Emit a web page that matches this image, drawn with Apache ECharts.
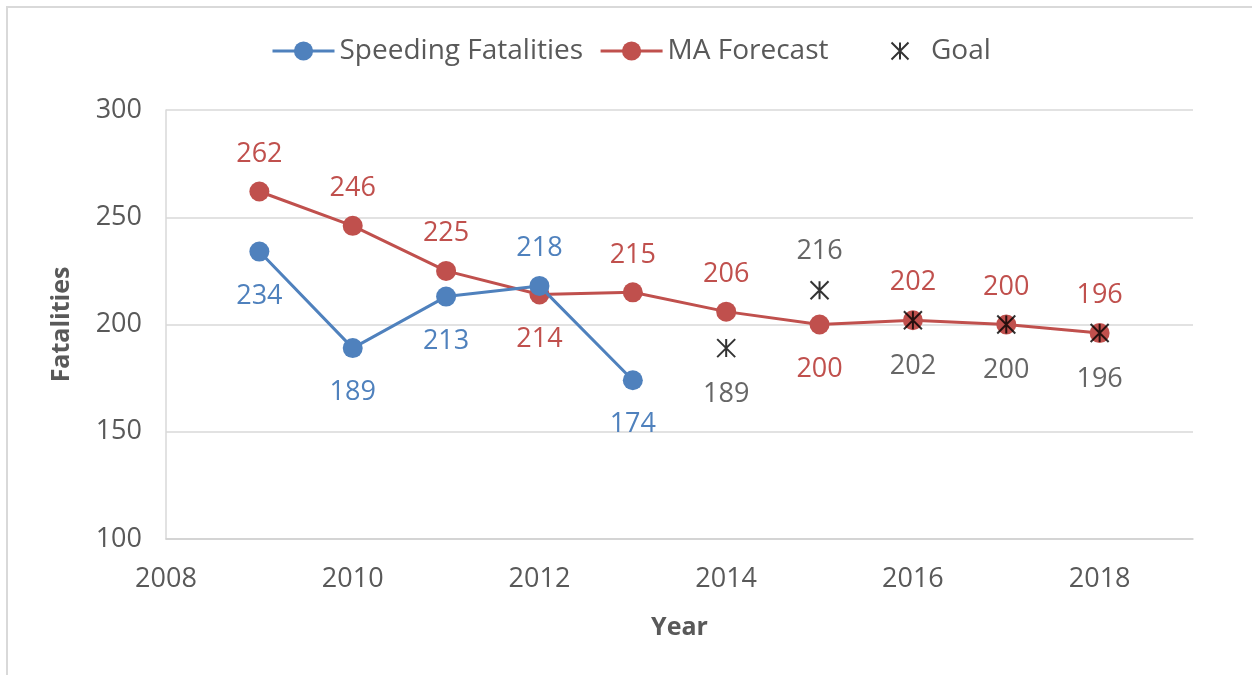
<!DOCTYPE html>
<html>
<head>
<meta charset="utf-8">
<script src="https://cdn.jsdelivr.net/npm/echarts@6/dist/echarts.min.js"></script>
<style>
  html, body { margin: 0; padding: 0; background: #fff; }
  #main { width: 1252px; height: 675px; }
</style>
</head>
<body>
<div id="main"></div>
<script>
// 数据
var speedYears = [2009, 2010, 2011, 2012, 2013];
var speedValues = [234, 189, 213, 218, 174];
var maYears = [2009, 2010, 2011, 2012, 2013, 2014, 2015, 2016, 2017, 2018];
var maValues = [262, 246, 225, 214, 215, 206, 200, 202, 200, 196];
var goalYears = [2014, 2015, 2016, 2017, 2018];
var goalValues = [189, 216, 202, 200, 196];

// 标签位置
var speedLabelPos = ['bottom', 'bottom', 'bottom', 'top', 'bottom'];
var maLabelPos = ['top', 'top', 'top', 'bottom', 'top', 'top', 'bottom', 'top', 'top', 'top'];
var goalLabelPos = ['bottom', 'top', 'bottom', 'bottom', 'bottom'];

var FONT = '"Open Sans", sans-serif';
var BLUE = '#4f81bd', RED = '#c0504d';

function pairs(xs, ys, pos) {
  return xs.map(function (x, i) {
    return {
      value: [x, ys[i]],
      label: { position: pos[i], distance: pos[i] === 'top' ? 14 : 21 }
    };
  });
}

var chart = echarts.init(document.getElementById('main'));
var option = {
  animation: false,
  graphic: [{
    type: 'rect',
    shape: { x: 7, y: 7, width: 1300, height: 720 },
    style: { fill: 'none', stroke: '#d9d9d9', lineWidth: 2 },
    silent: true
  }],
  legend: [
    {
      top: 32,
      left: 266,
      itemWidth: 62,
      itemHeight: 24,
      itemGap: 16,
      lineStyle: { width: 3 },
      textStyle: { fontFamily: FONT, fontSize: 28, color: '#595959' },
      data: ['Speeding Fatalities', 'MA Forecast']
    },
    {
      top: 32,
      left: 884,
      itemWidth: 44,
      itemHeight: 17,
      itemGap: 10,
      textStyle: { fontFamily: FONT, fontSize: 28, color: '#595959', padding: [0, 0, 0, 4] },
      data: ['Goal']
    }
  ],
  grid: { left: 166, right: 59, top: 110, bottom: 136 },
  xAxis: {
    type: 'value',
    min: 2008,
    max: 2019,
    interval: 2,
    name: 'Year',
    nameLocation: 'middle',
    nameGap: 76,
    nameTextStyle: { fontFamily: FONT, fontSize: 25, fontWeight: 'bold', color: '#595959' },
    axisLine: { lineStyle: { color: '#d0d0d0', width: 1.5 } },
    axisTick: { show: false },
    splitLine: { show: false },
    axisLabel: {
      margin: 27,
      showMaxLabel: false,
      fontFamily: FONT, fontSize: 27, color: '#595959',
      formatter: function (v) { return String(v); }
    }
  },
  yAxis: {
    type: 'value',
    min: 100,
    max: 300,
    interval: 50,
    name: 'Fatalities',
    nameLocation: 'middle',
    nameGap: 92,
    nameTextStyle: { fontFamily: FONT, fontSize: 25, fontWeight: 'bold', color: '#595959' },
    axisLine: { show: true, lineStyle: { color: '#d9d9d9', width: 1.5 } },
    axisTick: { show: false },
    splitLine: { lineStyle: { color: '#d9d9d9', width: 1.5 } },
    axisLabel: { margin: 24, fontFamily: FONT, fontSize: 27, color: '#595959' }
  },
  series: [
    {
      name: 'Speeding Fatalities',
      type: 'line',
      data: pairs(speedYears, speedValues, speedLabelPos),
      symbol: 'circle',
      symbolSize: 20,
      lineStyle: { color: BLUE, width: 3 },
      itemStyle: { color: BLUE },
      label: { show: true, fontFamily: FONT, fontSize: 27, color: BLUE,
        formatter: function (p) { return p.value[1]; } },
      z: 3
    },
    {
      name: 'MA Forecast',
      type: 'line',
      data: pairs(maYears, maValues, maLabelPos),
      symbol: 'circle',
      symbolSize: 20,
      lineStyle: { color: RED, width: 3 },
      itemStyle: { color: RED },
      label: { show: true, fontFamily: FONT, fontSize: 27, color: RED,
        formatter: function (p) { return p.value[1]; } },
      z: 2
    },
    {
      name: 'Goal',
      type: 'scatter',
      data: pairs(goalYears, goalValues, goalLabelPos),
      symbol: 'path://M0,0L10,10M10,0L0,10M5,0L5,10',
      symbolSize: 18,
      itemStyle: { color: 'none', borderColor: '#000', borderWidth: 2 },
      label: { show: true, fontFamily: FONT, fontSize: 27, color: '#404040',
        formatter: function (p) { return p.value[1]; } },
      z: 4
    }
  ]
};
chart.setOption(option);
</script>
</body>
</html>
